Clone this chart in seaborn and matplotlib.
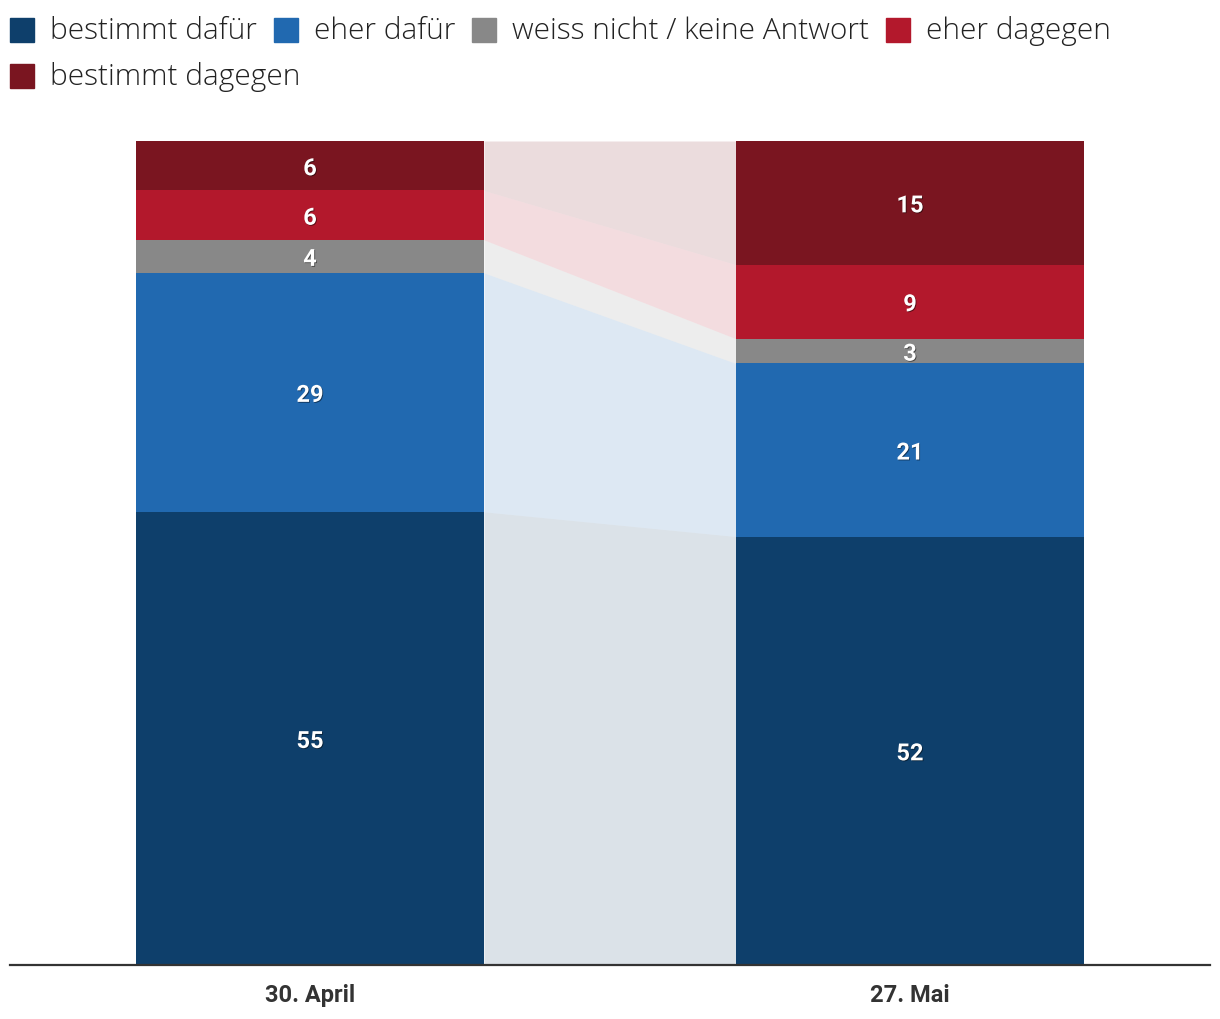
import matplotlib
matplotlib.use("Agg")
import matplotlib.pyplot as plt
import matplotlib.patheffects as pe
from matplotlib.patches import Rectangle
import numpy as np
import pandas as pd
import seaborn as sns

# ---- data ----
dates = ["30. April", "27. Mai"]
categories = ["bestimmt dafür", "eher dafür", "weiss nicht / keine Antwort",
              "eher dagegen", "bestimmt dagegen"]
bestimmt_dafuer = [55, 52]
eher_dafuer = [29, 21]
weiss_nicht = [4, 3]
eher_dagegen = [6, 9]
bestimmt_dagegen = [6, 15]
colors = ["#0e3f6b", "#2169b0", "#888888", "#b3182c", "#7a1520"]

series = [bestimmt_dafuer, eher_dafuer, weiss_nicht, eher_dagegen, bestimmt_dagegen]

sns.set_theme(style="white")
plt.rcParams["font.family"] = ["Roboto", "DejaVu Sans"]

W, H = 1220, 1020
fig = plt.figure(figsize=(W / 100, H / 100), dpi=100)
ax = fig.add_axes([10 / W, 1 - 966 / H, 1200 / W, 824 / H])

vals = np.array(series, dtype=float)  # shape (5, 2)
cum = np.cumsum(vals, axis=0)
bottoms = cum - vals

bar_w = 0.58
# draw cumulative layers from top to bottom with seaborn
for i in range(len(categories) - 1, -1, -1):
    df = pd.DataFrame({"date": dates, "value": cum[i]})
    sns.barplot(data=df, x="date", y="value", color=colors[i], width=bar_w,
                saturation=1, ax=ax, linewidth=0, edgecolor="none")

# connecting bands
xs = [0 + bar_w / 2, 1 - bar_w / 2]
for i in range(len(categories)):
    ax.fill_between(xs, bottoms[i], cum[i], color=colors[i], alpha=0.15,
                    linewidth=0, zorder=0.5)

# value labels
for i in range(len(categories)):
    for j in range(len(dates)):
        y = bottoms[i, j] + vals[i, j] / 2
        ax.annotate(f"{int(vals[i, j])}", xy=(j, y), xytext=(0, -2.2),
                    textcoords="offset points", ha="center", va="center",
                    color="white", fontsize=17, fontweight="bold",
                    path_effects=[pe.withSimplePatchShadow(offset=(0.6, -0.6),
                                                           shadow_rgbFace="#000000",
                                                           alpha=0.5)])

ax.set_xlim(-0.5, 1.5)
ax.set_ylim(0, 100)
ax.set_xlabel("")
ax.set_ylabel("")
ax.set_yticks([])
for s in ["top", "right", "left"]:
    ax.spines[s].set_visible(False)
ax.spines["bottom"].set_color("#333333")
ax.spines["bottom"].set_linewidth(1.6)
ax.tick_params(axis="x", length=0, pad=13)
for lab in ax.get_xticklabels():
    lab.set_fontsize(17)
    lab.set_fontweight("bold")
    lab.set_color("#333333")

# legend (manual flow layout)
fig.canvas.draw()
renderer = fig.canvas.get_renderer()
x = 10
rows_y = [31, 77]
row = 0
sq = 24
max_x = 1210
for name, col in zip(categories, colors):
    t = fig.text(0, 0, name, fontsize=21.5, fontweight="light", color="#222222",
                 va="center", ha="left", family=["Open Sans", "DejaVu Sans"])
    tw = t.get_window_extent(renderer).width
    item_w = sq + 16 + tw
    if x + item_w > max_x:
        row += 1
        x = 10
    yc = rows_y[row]
    fig.patches.append(Rectangle((x / W, 1 - (yc + sq / 2) / H), sq / W, sq / H,
                                 transform=fig.transFigure, color=col,
                                 figure=fig))
    t.set_position(((x + sq + 16) / W, 1 - yc / H))
    x += item_w + 17

fig.savefig("out.png", dpi=100)
